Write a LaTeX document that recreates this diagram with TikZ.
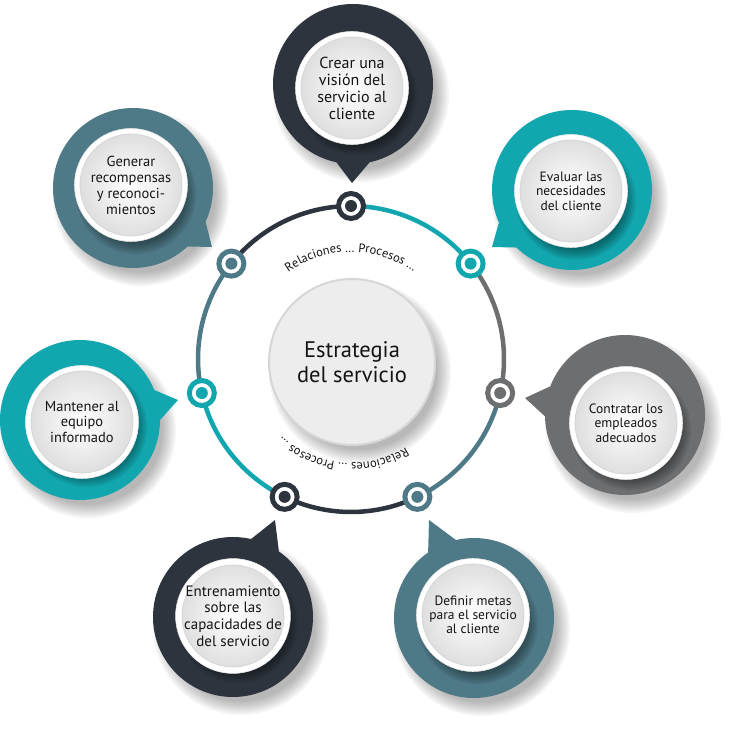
\documentclass[tikz,border=0pt]{standalone}
\usepackage{fontspec}
\setmainfont{PT Sans}
\usetikzlibrary{decorations.text,calc}
\definecolor{cdark}{HTML}{2D343D}
\definecolor{cteal}{HTML}{12A7AF}
\definecolor{cgray}{HTML}{6D6E70}
\definecolor{cslate}{HTML}{4E7986}
\definecolor{ctext}{HTML}{141414}
\pgfdeclarelayer{background}
\pgfsetlayers{background,main}
\newcommand\bfs[2]{\fontsize{#1}{#2}\selectfont}
\newcommand\myshadow[2]{\foreach \k in {0,...,7}{\fill[black,opacity=0.04] ($(#1)+(8,-10)$) circle ({(#2+8-1.9*\k)*1pt});}}
\newcommand\myinshadow[1]{\foreach \k in {0,...,5}{\fill[black,opacity=0.07] ($(#1)+(5,-7)$) circle ({(60-2*\k)*1pt});}}
\tikzset{
  ringline/.style={line width=4.5pt},
  ringdot/.style={circle, minimum size=25pt, inner sep=0pt, outer sep=0pt, fill=white, draw=#1, line width=5pt,
    path picture={\fill[#1] (path picture bounding box.center) circle (6pt);}},
  bubble/.style={circle, minimum size=160pt, inner sep=0pt, outer sep=0pt, fill=#1},
  innerc/.style={circle, minimum size=113pt, inner sep=0pt, outer sep=0pt, fill=white, draw=black!10, line width=0.6pt,
    align=center, text=ctext,
    path picture={\shade[inner color=white, outer color=black!14] (path picture bounding box.center) circle (51pt);
      \draw[black!16, line width=0.8pt] (path picture bounding box.center) circle (51pt);}},
  centerc/.style={circle, minimum size=166pt, inner sep=0pt, fill=black!7, draw=black!16, line width=2pt,
    align=center, text=ctext, font=\bfs{22.5}{24.5}},
  arctext/.style={decorate, decoration={text along path, text align=center, text={|\bfs{12.5}{14}\color{ctext}|#1}}}
}
\begin{document}
\begin{tikzpicture}[x=1pt,y=1pt]
\useasboundingbox (0,0) rectangle (742,729);
\coordinate (C) at (351,370);

% centre
\myshadow{352,367}{83}
\node[centerc] (ctr) at (352,367) {Estrategia\\del servicio};

% ring markers
\foreach \i/\a/\c in {0/90/cdark, 1/38.57/cteal, 2/-12.86/cgray, 3/-64.29/cslate, 4/-115.71/cdark, 5/-167.14/cteal, 6/141.43/cslate}
  \node[ringdot=\c] (n\i) at ([shift={(\a:153)}]C) {};

\begin{pgfonlayer}{background}
\draw[ringline,cdark]  (n6) arc[start angle=141.43, end angle=90, radius=153pt];
\draw[ringline,cteal]  (n0) arc[start angle=90, end angle=38.57, radius=153pt];
\draw[ringline,cgray]  (n1) arc[start angle=38.57, end angle=-12.86, radius=153pt];
\draw[ringline,cslate] (n2) arc[start angle=-12.86, end angle=-64.29, radius=153pt];
\draw[ringline,cdark]  (n3) arc[start angle=-64.29, end angle=-115.71, radius=153pt];
\draw[ringline,cteal]  (n4) arc[start angle=-115.71, end angle=-167.14, radius=153pt];
\draw[ringline,cslate] (n5) arc[start angle=-167.14, end angle=-218.57, radius=153pt];
\end{pgfonlayer}

% texts along the circle
\path[arctext={Relaciones … Procesos …}] ([shift={(150:107)}]C) arc[start angle=150, end angle=30, radius=107pt];
\path[arctext={Relaciones … Procesos …}] ([shift={(-35:104)}]C) arc[start angle=-35, end angle=-155, radius=104pt];

% bubble 0 (top)
\myshadow{353,645}{80}
\node[bubble=cdark] (b0) at (353,645) {};
\coordinate (tip0) at (352,546);
\fill[cdark] (b0.-78) -- (tip0) -- (b0.-102) -- cycle;
\myinshadow{352,641}
\node[innerc, font=\bfs{16}{17}] (t0) at (352,641) {Crear una\\visión del\\servicio al\\cliente};

% bubble 1 (upper right)
\myshadow{572,539}{80}
\node[bubble=cteal] (b1) at (572,539) {};
\coordinate (tip1) at (492,482);
\fill[cteal] (b1.204.5) -- (tip1) -- (b1.226.5) -- cycle;
\myinshadow{571,536}
\node[innerc, font=\bfs{13.5}{14.5}] (t1) at (571,538) {Evaluar las\\necesidades\\del cliente};

% bubble 2 (right)
\myshadow{625,314}{80}
\node[bubble=cgray] (b2) at (625,314) {};
\coordinate (tip2) at (525,331);
\fill[cgray] (b2.159.4) -- (tip2) -- (b2.181.4) -- cycle;
\myinshadow{626,306}
\node[innerc, font=\bfs{13.5}{14.5}] (t2) at (626,306) {Contratar los\\empleados\\adecuados};

% bubble 3 (lower right)
\myshadow{474,111}{80}
\node[bubble=cslate] (b3) at (474,111) {};
\coordinate (tip3) at (429,209);
\fill[cslate] (b3.103.7) -- (tip3) -- (b3.125.7) -- cycle;
\myinshadow{473,112}
\node[innerc, font=\bfs{13.5}{14}] (t3) at (473,114) {Definir metas\\para el servicio\\al cliente};

% bubble 4 (lower left)
\myshadow{233,112}{80}
\node[bubble=cdark] (b4) at (233,112) {};
\coordinate (tip4) at (275,209);
\fill[cdark] (b4.55.6) -- (tip4) -- (b4.77.6) -- cycle;
\myinshadow{233,113}
\node[innerc, font=\bfs{15}{16.7}] (t4) at (233,113) {Entrenamiento\\sobre las\\capacidades de\\del servicio};

% bubble 5 (left)
\myshadow{80,309}{80}
\node[bubble=cteal] (b5) at (80,309) {};
\coordinate (tip5) at (178,329);
\fill[cteal] (b5.0.5) -- (tip5) -- (b5.22.5) -- cycle;
\myinshadow{82,309}
\node[innerc, font=\bfs{14.5}{15.5}] (t5) at (82,307) {Mantener al\\equipo\\informado};

% bubble 6 (upper left)
\myshadow{133,541}{80}
\node[bubble=cslate] (b6) at (133,541) {};
\coordinate (tip6) at (212,482);
\fill[cslate] (b6.-47.8) -- (tip6) -- (b6.-25.8) -- cycle;
\myinshadow{131,542}
\node[innerc, font=\bfs{14.5}{16}] (t6) at (131,544) {Generar\\recompensas\\y reconoci-\\mientos};
\end{tikzpicture}
\end{document}
